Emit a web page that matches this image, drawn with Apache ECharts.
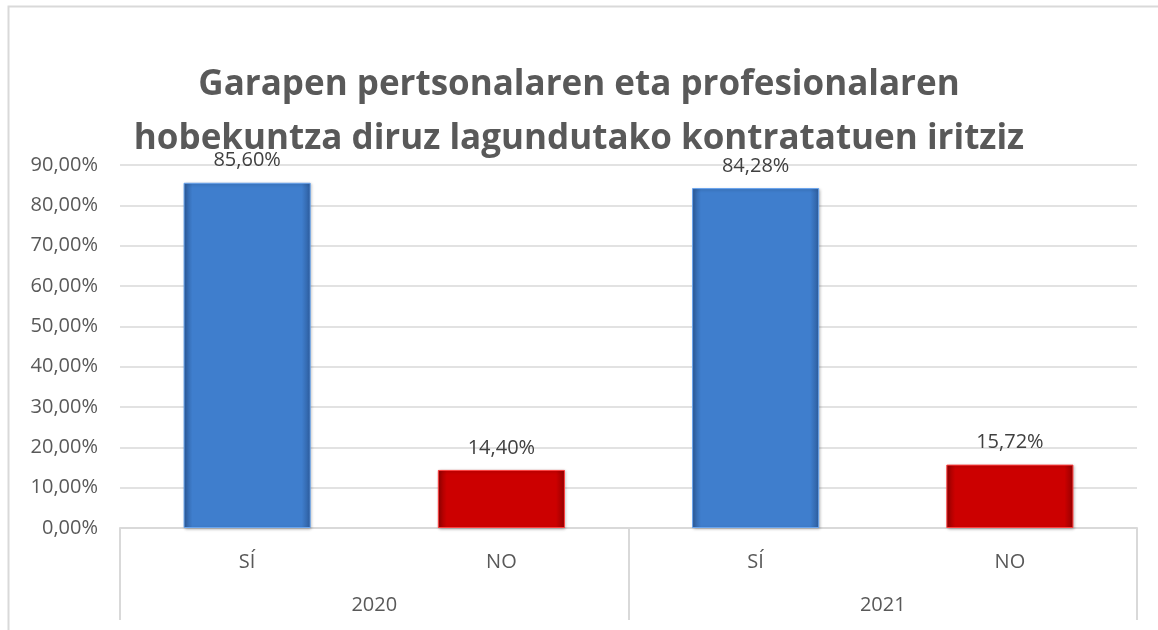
<!DOCTYPE html>
<html>
<head>
<meta charset="utf-8">
<script src="https://cdn.jsdelivr.net/npm/echarts@6/dist/echarts.min.js"></script>
<style>
  html, body { margin: 0; padding: 0; background: #fff; }
  #chart { width: 1158px; height: 630px; }
</style>
</head>
<body>
<div id="chart"></div>
<script>
var titleLines = ['Garapen pertsonalaren eta profesionalaren', 'hobekuntza diruz lagundutako kontratatuen iritziz'];
var categories = ['SÍ', 'NO', 'SÍ', 'NO'];
var years = ['2020', '2021'];
var values = [85.60, 14.40, 84.28, 15.72];
var yTicks = [0, 10, 20, 30, 40, 50, 60, 70, 80, 90];

function pct(v) {
    return v.toFixed(2).replace('.', ',') + '%';
}

function bevel(mid, dark) {
    return new echarts.graphic.LinearGradient(0, 0, 1, 0, [
        { offset: 0, color: dark },
        { offset: 0.07, color: mid },
        { offset: 0.93, color: mid },
        { offset: 1, color: dark }
    ]);
}

var blue = bevel('#3f7ecd', '#2d5c9c');
var red = bevel('#cc0000', '#940000');

var chart = echarts.init(document.getElementById('chart'));
var option = {
    animation: false,
    title: {
        text: titleLines.join('\n'),
        left: 'center',
        top: 53,
        textStyle: {
            fontFamily: 'Open Sans',
            fontWeight: 'bold',
            fontSize: 35,
            lineHeight: 54,
            color: '#595959'
        }
    },
    grid: { left: 120, right: 21, top: 165, bottom: 102 },
    xAxis: [
        {
            type: 'category',
            data: categories,
            axisLine: { lineStyle: { color: '#d9d9d9', width: 2 } },
            axisTick: { show: false },
            axisLabel: { margin: 24, fontFamily: 'Open Sans', fontSize: 20, color: '#595959' }
        },
        {
            type: 'category',
            data: years,
            position: 'bottom',
            axisLine: { show: false },
            axisTick: { show: true, length: 92, lineStyle: { color: '#d9d9d9', width: 2 } },
            axisLabel: { margin: 67, fontFamily: 'Open Sans', fontSize: 20, color: '#595959' }
        }
    ],
    yAxis: {
        type: 'value',
        min: 0,
        max: 90,
        interval: 10,
        axisLine: { show: false },
        axisTick: { show: false },
        splitLine: { lineStyle: { color: '#d9d9d9', width: 1.5 } },
        axisLabel: {
            margin: 22,
            fontFamily: 'Open Sans',
            fontSize: 20,
            color: '#595959',
            formatter: function (v) { return yTicks.indexOf(v) >= 0 ? pct(v) : ''; }
        }
    },
    series: [{
        type: 'bar',
        xAxisIndex: 0,
        barWidth: '50%',
        data: values.map(function (v, i) {
            return {
                value: v,
                itemStyle: {
                    color: categories[i] === 'SÍ' ? blue : red,
                    borderColor: categories[i] === 'SÍ' ? '#6aa5ee' : '#ff4040',
                    borderWidth: 1,
                    shadowColor: 'rgba(0,0,0,0.25)',
                    shadowBlur: 3,
                    shadowOffsetX: 1,
                    shadowOffsetY: 1
                }
            };
        }),
        label: {
            show: true,
            position: 'top',
            distance: 12,
            fontFamily: 'Open Sans',
            fontSize: 20,
            color: '#404040',
            formatter: function (p) { return pct(p.value); }
        }
    }],
    graphic: [{
        type: 'polyline',
        silent: true,
        shape: { points: [[8.5, 640], [8.5, 6.5], [1170, 6.5]] },
        style: { stroke: '#d9d9d9', lineWidth: 2, fill: null }
    }]
};
chart.setOption(option);
</script>
</body>
</html>
